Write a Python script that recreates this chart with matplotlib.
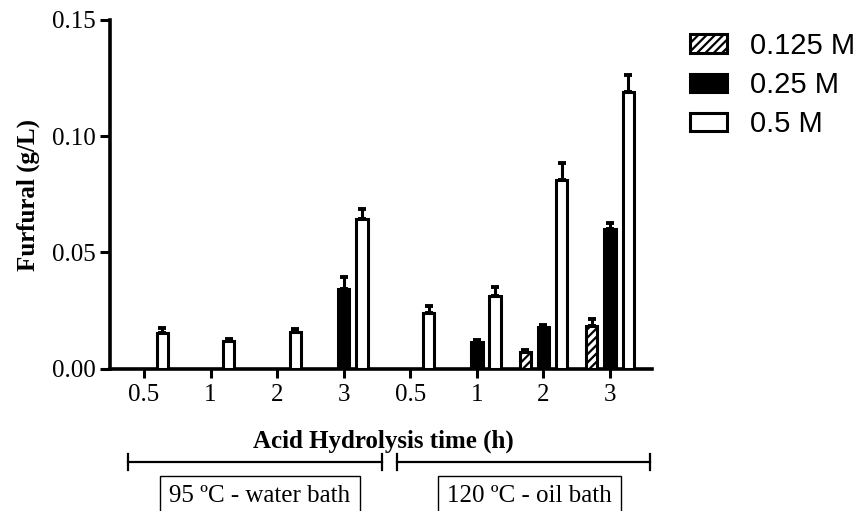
import numpy as np
import matplotlib
matplotlib.use("Agg")
import matplotlib.pyplot as plt
from matplotlib.lines import Line2D
from matplotlib.patches import Patch

# ---------------- data ----------------
categories = ["0.5", "1", "2", "3", "0.5", "1", "2", "3"]
series_names = ["0.125 M", "0.25 M", "0.5 M"]
nan = np.nan
v_0125 = [nan, nan, nan, nan, nan, nan, 0.0070, 0.0185]
e_0125 = [nan, nan, nan, nan, nan, nan, 0.0008, 0.0026]
v_025 = [nan, nan, nan, 0.0343, nan, 0.0116, 0.0177, 0.0601]
e_025 = [nan, nan, nan, 0.0050, nan, 0.0007, 0.0009, 0.0025]
v_05 = [0.0152, 0.0119, 0.0155, 0.0644, 0.0238, 0.0314, 0.0812, 0.1189]
e_05 = [0.0023, 0.0010, 0.0013, 0.0044, 0.0030, 0.0036, 0.0073, 0.0076]
y_ticks = [0.00, 0.05, 0.10, 0.15]
group_labels = ["95 ºC - water bath", "120 ºC - oil bath"]

# ---------------- figure ----------------
W, H = 862, 511
fig = plt.figure(figsize=(W / 100, H / 100), dpi=100)
plt.rcParams["hatch.linewidth"] = 1.6

def fx(px):
    return px / W

def fy(py):
    return 1 - py / H

ax = fig.add_axes([fx(110), fy(368.5), fx(652) - fx(110), fy(20) - fy(368.5)])

serif = "Liberation Serif"
sans = "Liberation Sans"

x = np.arange(len(categories))
width = 0.17
offset = 0.274
styles = [
    dict(facecolor="white", hatch="////"),
    dict(facecolor="black"),
    dict(facecolor="white"),
]
vals = [v_0125, v_025, v_05]
errs = [e_0125, e_025, e_05]
for k, (vv, ee, st) in enumerate(zip(vals, errs, styles)):
    vv = np.array(vv, dtype=float)
    ee = np.array(ee, dtype=float)
    m = ~np.isnan(vv)
    xs = x[m] + (k - 1) * offset
    ax.errorbar(xs, vv[m], yerr=[np.zeros(m.sum()), ee[m]], fmt="none",
                ecolor="black", elinewidth=2.2, capsize=2.9, capthick=2.8, zorder=2)
    ax.bar(xs, vv[m], width=width, edgecolor="black", linewidth=2.2, zorder=3, **st)

ax.set_xlim(-0.51, 7.63)
ax.set_ylim(0, 0.15)
ax.set_yticks(y_ticks)
ax.set_yticklabels([f"{t:.2f}" for t in y_ticks], fontfamily=serif, fontsize=18)
ax.set_xticks(x)
ax.set_xticklabels(categories, fontfamily=serif, fontsize=18)
for s in ["top", "right"]:
    ax.spines[s].set_visible(False)
for s in ["left", "bottom"]:
    ax.spines[s].set_linewidth(2.6)
ax.tick_params(axis="y", length=7, width=2.2, pad=3.5, direction="out")
ax.tick_params(axis="x", length=6.5, width=2.2, pad=5, direction="out")

fig.text(fx(28), fy(195), "Furfural (g/L)", rotation=90, ha="center", va="center",
         fontfamily=serif, fontsize=18, fontweight="bold")
fig.text(fx(383), fy(441), "Acid Hydrolysis time (h)", ha="center", va="center",
         fontfamily=serif, fontsize=18, fontweight="bold")

# brackets
for (x0, x1) in [(128, 382), (397, 650)]:
    fig.add_artist(Line2D([fx(x0), fx(x1)], [fy(461.7), fy(461.7)], color="black", lw=1.6))
    for xe in (x0, x1):
        fig.add_artist(Line2D([fx(xe), fx(xe)], [fy(453.5), fy(470)], color="black", lw=1.6))

for cx, lab in zip([260, 529.5], group_labels):
    fig.text(fx(cx), fy(502), lab, ha="center", va="baseline", fontfamily=serif, fontsize=18,
             bbox=dict(boxstyle="square,pad=0.38", facecolor="white", edgecolor="black", lw=1.0))

handles = [Patch(edgecolor="black", linewidth=2.2, **st) for st in styles]
fig.legend(handles, series_names, loc="upper left", bbox_to_anchor=(fx(690), fy(32)),
           frameon=False, prop=dict(family=sans, size=21), handlelength=1.27,
           handleheight=0.6, handletextpad=0.8, labelspacing=0.38, borderpad=0,
           borderaxespad=0)

fig.savefig("out.png", dpi=100)
